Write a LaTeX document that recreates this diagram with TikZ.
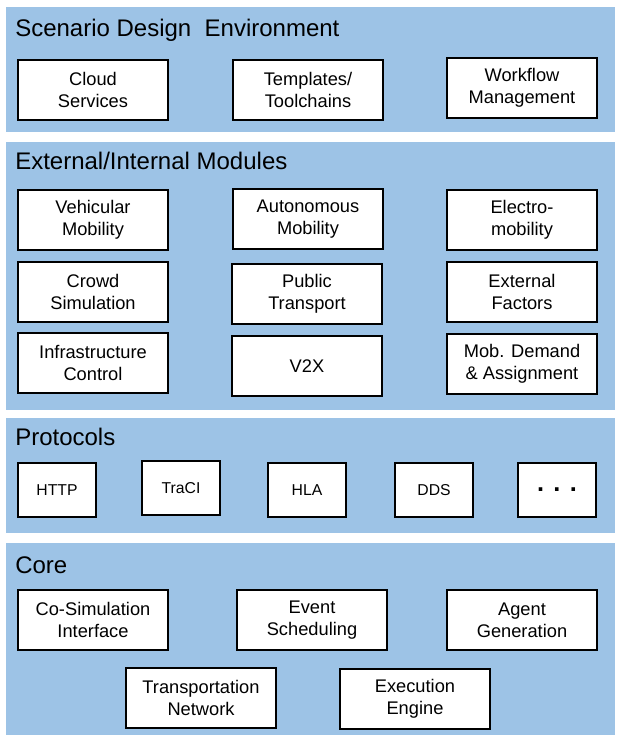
\documentclass[tikz,border=0pt]{standalone}
\usepackage{fontspec}
\setmainfont{Liberation Sans}
\usetikzlibrary{positioning}
\definecolor{panelblue}{HTML}{9DC3E6}

\begin{document}
\begin{tikzpicture}[x=0.75pt,y=-0.75pt,
    panel/.style={fill=panelblue,draw=none},
    layer/.style={anchor=west,inner sep=0pt,font=\fontsize{18}{21}\selectfont},
    module/.style={draw=black,fill=white,line width=1.5pt,minimum width=112.5pt,minimum height=45pt,
        align=center,inner sep=2pt,font=\fontsize{13.7}{16.5}\selectfont},
    proto/.style={module,minimum width=58.5pt,minimum height=41pt,font=\fontsize{11.8}{13}\selectfont}]
\useasboundingbox (0,0) rectangle (617,740);
% layers
\path[panel] (6,7) rectangle (615,132);
\path[panel] (6,142) rectangle (615,410);
\path[panel] (6,418) rectangle (615,533);
\path[panel] (6,543) rectangle (615,735);
\node[layer] (sde) at (15,30) {Scenario Design\ \ Environment};
\node[layer] (mods) at (15,161) {External/Internal Modules};
\node[layer] (prot) at (15,437) {Protocols};
\node[layer] (core) at (15,565) {Core};
% scenario design
\node[module] (cloud) at (93,90) {Cloud\\Services};
\node[module] (templ) at (308,90) {Templates/\\Toolchains};
\node[module] (workf) at (522,88) {Workflow\\Management};
% modules
\node[module] (vehic) at (93,220) {Vehicular\\Mobility};
\node[module] (auton) at (308,219) {Autonomous\\Mobility};
\node[module] (elect) at (522,220) {Electro-\\mobility};
\node[module] (crowd) at (93,292) {Crowd\\Simulation};
\node[module] (publ) at (307,294) {Public\\Transport};
\node[module] (extf) at (522,292) {External\\Factors};
\node[module] (infra) at (93,363) {Infrastructure\\Control};
\node[module] (vtx) at (307,366) {V2X};
\node[module] (demand) at (522,364) {Mob. Demand\\\& Assignment};
% protocols
\node[proto] (http) at (57,490) {HTTP};
\node[proto] (traci) at (181,488) {TraCI};
\node[proto] (hla) at (307,490) {HLA};
\node[proto] (dds) at (434,490) {DDS};
\node[proto,font=\fontsize{19}{20}\selectfont\bfseries] (more) at (557,490) {. . .};
% core
\node[module] (cosim) at (93,620) {Co-Simulation\\Interface};
\node[module] (event) at (312,620) {Event\\Scheduling};
\node[module] (agent) at (522,620) {Agent\\Generation};
\node[module] (tnet) at (201,698) {Transportation\\Network};
\node[module] (exec) at (415,699) {Execution\\Engine};
\end{tikzpicture}
\end{document}
